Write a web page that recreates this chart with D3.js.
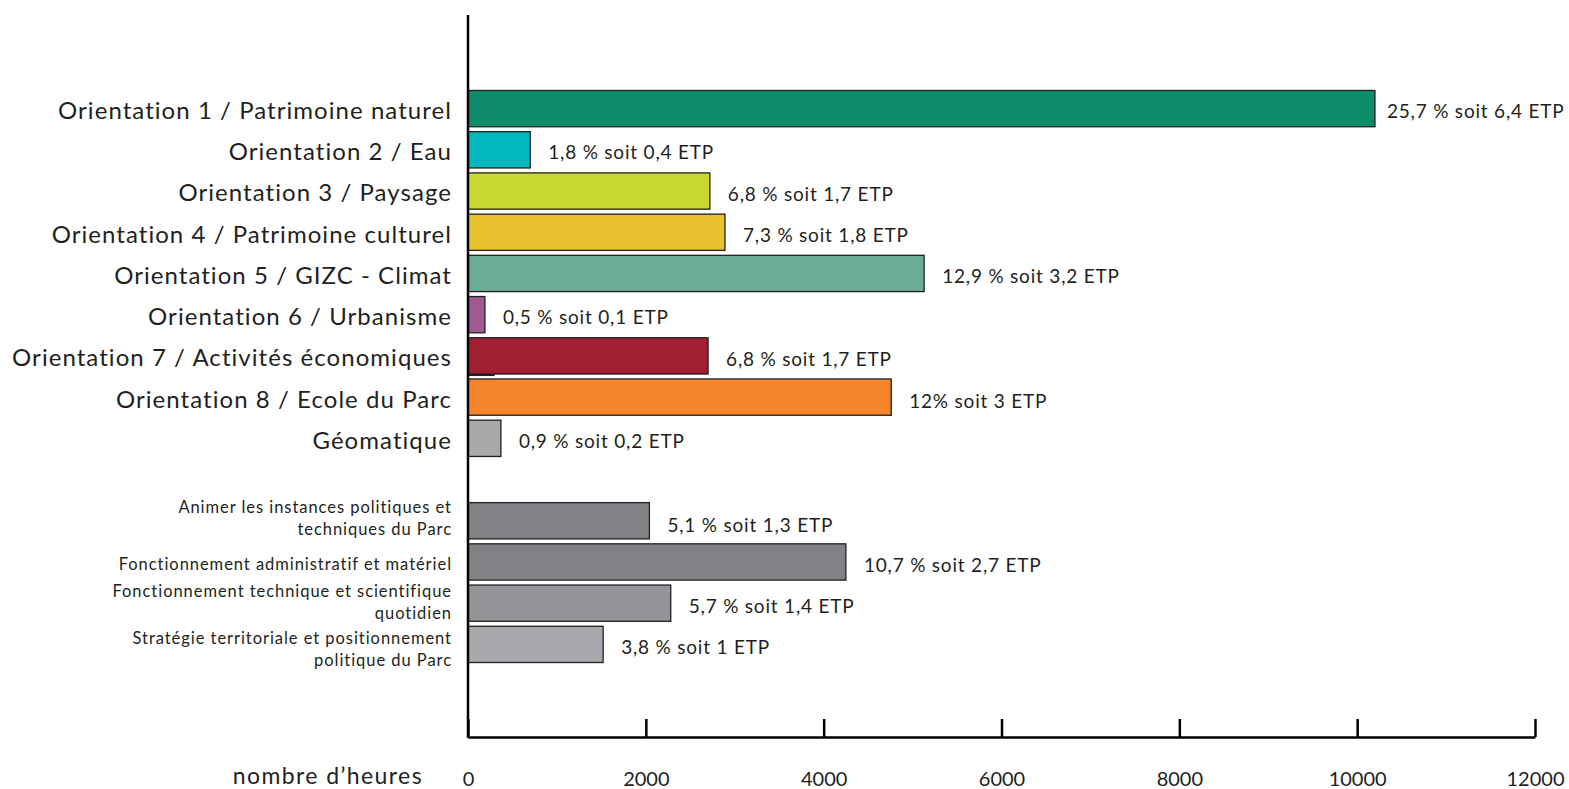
<!DOCTYPE html>
<html>
<head>
<meta charset="utf-8">
<script src="https://cdn.jsdelivr.net/npm/d3@7"></script>
<style>
  html, body { margin: 0; padding: 0; background: #fff; }
  svg { display: block; }
  text { font-family: Lato, "Noto Sans", sans-serif; fill: #231f20; }
</style>
</head>
<body>
<svg id="chart" width="1569" height="789"></svg>
<script>
// Hours spent per activity line
const categories = [
  "Orientation 1 / Patrimoine naturel",
  "Orientation 2 / Eau",
  "Orientation 3 / Paysage",
  "Orientation 4 / Patrimoine culturel",
  "Orientation 5 / GIZC - Climat",
  "Orientation 6 / Urbanisme",
  "Orientation 7 / Activités économiques",
  "Orientation 8 / Ecole du Parc",
  "Géomatique",
  "",
  "Animer les instances politiques et\ntechniques du Parc",
  "Fonctionnement administratif et matériel",
  "Fonctionnement technique et scientifique\nquotidien",
  "Stratégie territoriale et positionnement\npolitique du Parc"
];
const hours = [10200, 700, 2720, 2890, 5130, 190, 2700, 4760, 370, null, 2040, 4250, 2280, 1520];
const valueLabels = [
  "25,7 % soit 6,4 ETP",
  "1,8 % soit 0,4 ETP",
  "6,8 % soit 1,7 ETP",
  "7,3 % soit 1,8 ETP",
  "12,9 % soit 3,2 ETP",
  "0,5 % soit 0,1 ETP",
  "6,8 % soit 1,7 ETP",
  "12% soit 3 ETP",
  "0,9 % soit 0,2 ETP",
  "",
  "5,1 % soit 1,3 ETP",
  "10,7 % soit 2,7 ETP",
  "5,7 % soit 1,4 ETP",
  "3,8 % soit 1 ETP"
];
const barColors = [
  "#0e8c6a", "#00b8bd", "#c9d931", "#e6c12d", "#6aac97",
  "#a05a91", "#a21e32", "#f5842a", "#a7a9aa", "none",
  "#808285", "#808285", "#939598", "#a7a9ac"
];
const xTicks = [0, 2000, 4000, 6000, 8000, 10000, 12000];
const xTitle = "nombre d\u2019heures";
// small segment peeking out under the Orientation 7 bar
const hiddenSegment = { index: 6, hours: 300 };

const svg = d3.select("#chart");
const x = d3.scaleLinear().domain([0, 12000]).range([468, 1535]);
const y = d3.scaleBand().domain(d3.range(categories.length)).range([88, 665])
  .paddingInner(0.12).paddingOuter(0.06);

// thin segment drawn beneath the bars
svg.append("rect")
  .attr("x", x(0))
  .attr("y", y(hiddenSegment.index) + y.bandwidth() - 1)
  .attr("width", x(hiddenSegment.hours) - x(0))
  .attr("height", 3)
  .attr("fill", "#231f20");

const idx = d3.range(categories.length).filter(i => hours[i] != null);

svg.append("g").selectAll("rect").data(idx).join("rect")
  .attr("x", x(0))
  .attr("y", i => y(i))
  .attr("width", i => x(hours[i]) - x(0))
  .attr("height", y.bandwidth())
  .attr("fill", i => barColors[i])
  .attr("stroke", "#231f20")
  .attr("stroke-width", 1.3);

// value annotations, nudged a little below the bar centre
const valueNudge = i => (i === 7 ? 4.5 : i === 10 ? 5 : 3);
svg.append("g").selectAll("text").data(idx).join("text")
  .attr("x", i => x(hours[i]) + (i === 0 ? 12 : 18))
  .attr("y", i => y(i) + y.bandwidth() / 2 + valueNudge(i))
  .attr("dy", "0.35em")
  .attr("font-size", 19)
  .attr("letter-spacing", 0.8)
  .text(i => valueLabels[i]);

// category labels
const smallNudge = { 10: -3, 11: 2, 12: -1, 13: 5 };
const catG = svg.append("g");
idx.forEach(i => {
  const lines = categories[i].split("\n");
  const big = i < 9;
  const fs = big ? 24 : 16.5;
  const lh = big ? 26 : 22;
  const cy = y(i) + y.bandwidth() / 2 + (big ? 2 : smallNudge[i]);
  const t = catG.append("text")
    .attr("x", 452)
    .attr("text-anchor", "end")
    .attr("font-size", fs)
    .attr("letter-spacing", big ? 1.05 : 0.95);
  lines.forEach((ln, k) => {
    t.append("tspan")
      .attr("x", 452)
      .attr("y", cy + (k - (lines.length - 1) / 2) * lh)
      .attr("dy", "0.35em")
      .text(ln);
  });
});

// x axis: ticks pointing up into the plot
const xAxis = svg.append("g").attr("transform", "translate(0,737)")
  .call(d3.axisBottom(x).tickValues(xTicks).tickSizeInner(-18).tickSizeOuter(0).tickPadding(0).tickFormat(d3.format("d")));
xAxis.select(".domain").attr("stroke", "#000").attr("stroke-width", 2.5);
xAxis.selectAll(".tick line").attr("stroke", "#000").attr("stroke-width", 2.5);
xAxis.selectAll(".tick text")
  .attr("y", 42)
  .attr("dy", "0.35em")
  .attr("font-size", 20)
  .attr("font-family", "Lato, 'Noto Sans', sans-serif")
  .attr("fill", "#231f20");

// y axis line
svg.append("line")
  .attr("x1", x(0)).attr("x2", x(0))
  .attr("y1", 15).attr("y2", 738)
  .attr("stroke", "#000").attr("stroke-width", 2.5);

svg.append("text")
  .attr("x", 423).attr("y", 784)
  .attr("text-anchor", "end")
  .attr("font-size", 23)
  .attr("letter-spacing", 1.4)
  .text(xTitle);
</script>
</body>
</html>
